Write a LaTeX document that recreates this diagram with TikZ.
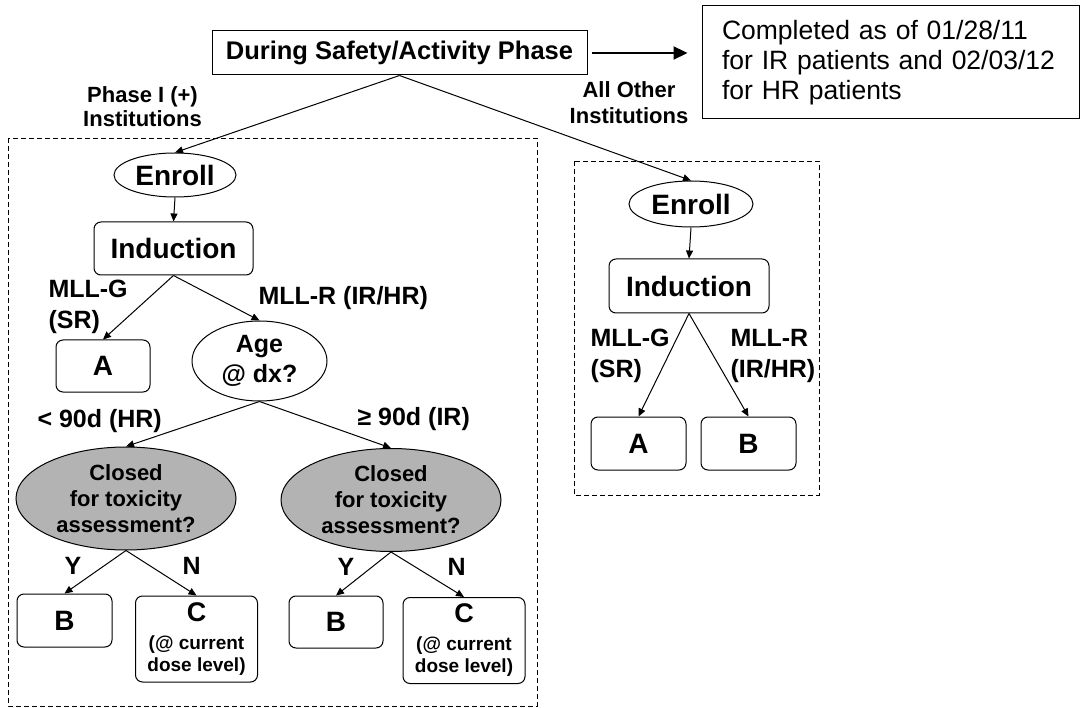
\documentclass[tikz,border=0pt]{standalone}
\usepackage{fontspec}
\setmainfont{Liberation Sans}
\usetikzlibrary{arrows.meta,shapes.geometric}

\definecolor{closedgray}{RGB}{179,179,179}

\begin{document}
\begin{tikzpicture}[x=1pt, y=-1pt, line width=1pt, >={Triangle[length=8pt,width=7pt]},
    box/.style={draw, rounded corners=7pt, inner sep=0pt, font=\fontsize{28}{30}\selectfont\bfseries},
    oval/.style={draw, ellipse, inner sep=0pt, font=\fontsize{28}{32}\selectfont\bfseries},
    query/.style={oval, fill=closedgray, minimum width=220pt, minimum height=103pt, align=center, font=\fontsize{22}{26}\selectfont\bfseries},
    dose/.style={box, minimum width=122pt, minimum height=86pt, align=center, font=\fontsize{19}{22}\selectfont\bfseries},
    lbl/.style={inner sep=0pt, font=\fontsize{25}{31}\selectfont\bfseries},
    frame/.style={draw, dash pattern=on 5pt off 3pt, line width=0.8pt}]
    \useasboundingbox (0,0) rectangle (1081,708);
    \node[draw, minimum width=375pt, minimum height=44pt, inner sep=0pt, font=\fontsize{25.5}{30}\selectfont\bfseries] (phase) at (399.5,53) {During Safety/Activity Phase};
    \node[draw, inner xsep=20pt, inner ysep=0pt, minimum height=113pt, text width=337pt, align=left, font=\fontsize{26.5}{30}\selectfont] (note) at (890.5,62.5) {Completed as of 01/28/11\\for IR patients and 02/03/12\\for HR patients};
    \draw[->, line width=2.2pt, >={Triangle[length=14pt,width=13pt]}, shorten <=4pt, shorten >=14pt] (phase.east) -- (phase.east -| note.west);
    \node[lbl, align=center, font=\fontsize{22}{24}\selectfont\bfseries] (phaseI) at (142.5,107) {Phase I (+)\\Institutions};
    \node[lbl, align=center, font=\fontsize{22}{26}\selectfont\bfseries] (others) at (629,103) {All Other\\Institutions};
    \draw[frame] (8,138) rectangle (537,706);
    \draw[frame] (574,161) rectangle (819,495);

    \node[oval, minimum width=122pt, minimum height=44pt] (enrollL) at (175,175) {Enroll};
    \node[box, minimum width=159pt, minimum height=53pt] (inducL) at (173.5,248.5) {Induction};
    \node[box, minimum width=94pt, minimum height=52pt] (armAL) at (103,366) {A};
    \node[oval, minimum width=135pt, minimum height=80pt, align=center, font=\fontsize{25}{30}\selectfont\bfseries] (age) at (259.5,361) {Age\\@ dx?};
    \node[query] (closedL) at (126,498.5) {Closed\\for toxicity\\assessment?};
    \node[query] (closedR) at (391,500) {Closed\\for toxicity\\assessment?};
    \node[box, minimum width=95pt, minimum height=53pt] (armBL) at (64.5,620.5) {B};
    \node[dose] (armCL) at (196.5,639) {{\fontsize{27}{28}\selectfont C}\\[6pt](@ current\\dose level)};
    \node[box, minimum width=94pt, minimum height=52pt] (armBR) at (336,622) {B};
    \node[dose] (armCR) at (464,640.5) {{\fontsize{27}{28}\selectfont C}\\[6pt](@ current\\dose level)};

    \node[oval, minimum width=124pt, minimum height=46pt] (enrollR) at (691,204) {Enroll};
    \node[box, minimum width=160pt, minimum height=54pt] (inducR) at (689,286) {Induction};
    \node[box, minimum width=95pt, minimum height=53pt] (armA) at (638.5,443.5) {A};
    \node[box, minimum width=95pt, minimum height=53pt] (armB) at (748.5,443.5) {B};

    \node[lbl, anchor=west, align=left] (mllGL) at (48,307) {MLL-G\\(SR)};
    \node[lbl, anchor=base west] (mllRL) at (258,305) {MLL-R (IR/HR)};
    \node[lbl, anchor=base west] (young) at (37,427) {< 90d (HR)};
    \node[lbl, anchor=base west] (older) at (357,425) {≥ 90d (IR)};
    \node[lbl, anchor=base west] (yesL) at (64,574) {Y};
    \node[lbl, anchor=base west] (noL) at (182,574) {N};
    \node[lbl, anchor=base west] (yesR) at (337,575) {Y};
    \node[lbl, anchor=base west] (noR) at (447,575) {N};
    \node[lbl, anchor=west, align=left] (mllG) at (590,356) {MLL-G\\(SR)};
    \node[lbl, anchor=west, align=left] (mllR) at (730,356) {MLL-R\\(IR/HR)};

    \draw[->] (phase.south) -- (enrollL.north);
    \draw[->] (phase.south) -- (enrollR.north);
    \draw[->] (enrollL.south) -- (inducL.north);
    \draw[->] (inducL.south) -- (armAL.north);
    \draw[->] (inducL.south) -- (age.north);
    \draw[->] (age.south) -- (closedL.north);
    \draw[->] (age.south) -- (closedR.north);
    \draw[->] (closedL.south) -- (armBL.north);
    \draw[->] (closedL.south) -- (armCL.north);
    \draw[->] (closedR.south) -- (armBR.north);
    \draw[->] (closedR.south) -- (armCR.north);
    \draw[->] (enrollR.south) -- (inducR.north);
    \draw[->] (inducR.south) -- (armA.north);
    \draw[->] (inducR.south) -- (armB.north);
\end{tikzpicture}
\end{document}
